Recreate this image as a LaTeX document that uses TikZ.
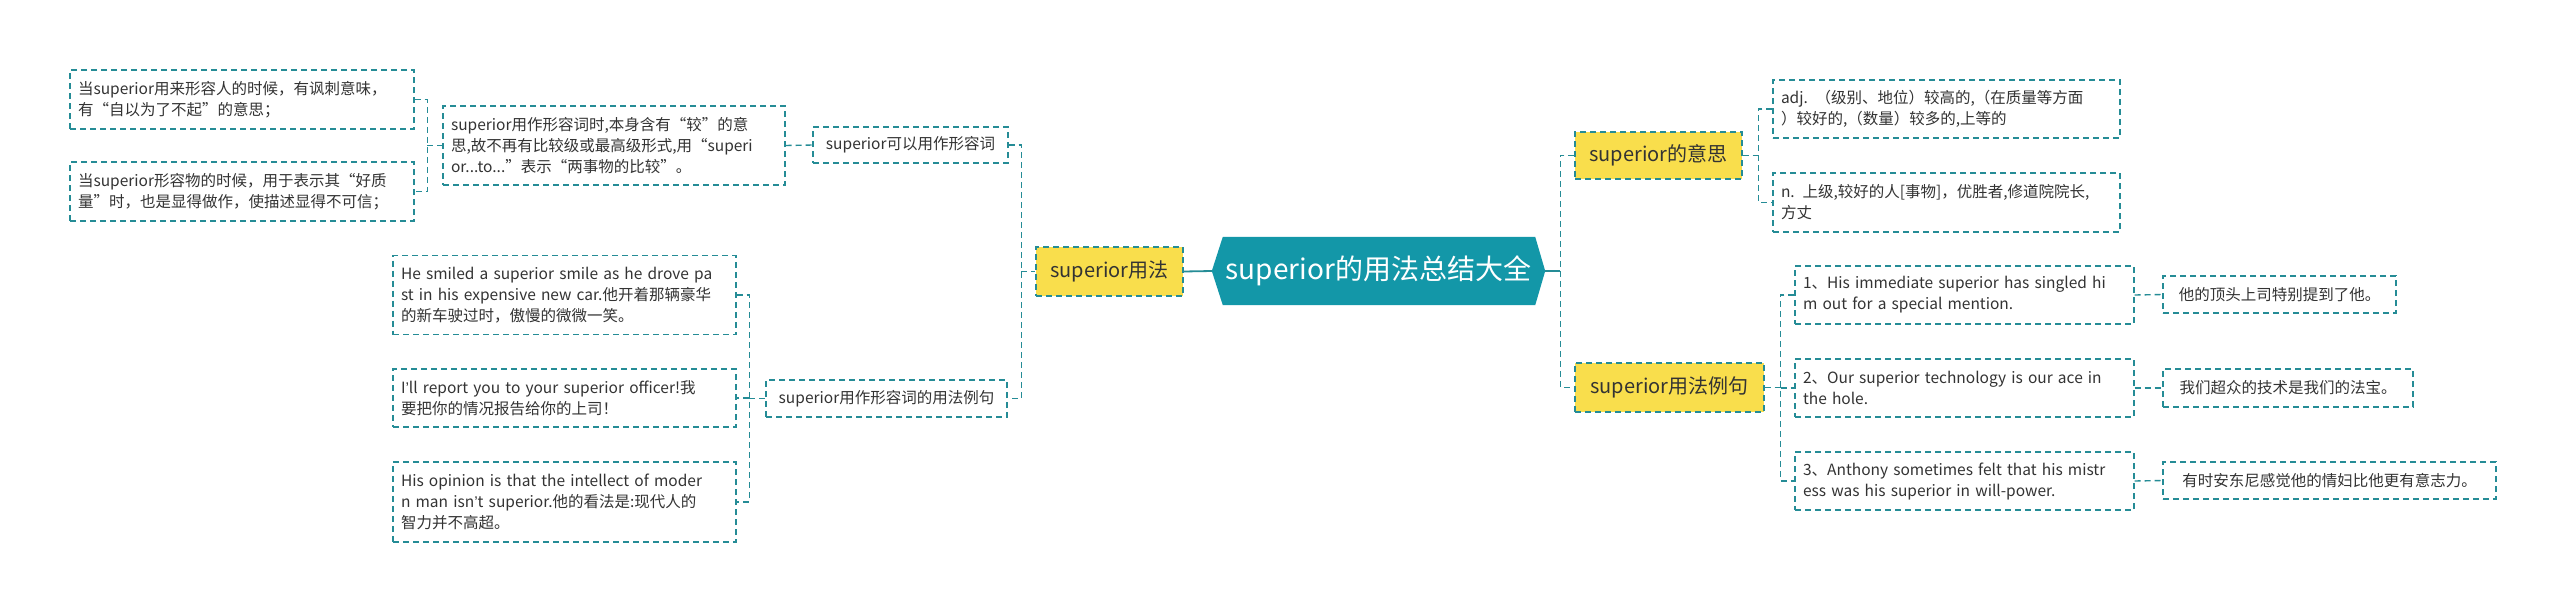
\documentclass[tikz,border=0pt]{standalone}
\usepackage{fontspec}
\setmainfont{Noto Sans CJK SC}
\newfontfamily\lat{Liberation Sans}
\usetikzlibrary{backgrounds}
\definecolor{ln}{HTML}{258C96}
\definecolor{ctr}{HTML}{1397A8}
\definecolor{yl}{HTML}{F9DE4C}
\definecolor{tx}{HTML}{333333}
\newcommand\ap{{\lat ’}}
\begin{document}
\begin{tikzpicture}[x=1pt,y=-1pt,
  dsh/.style={draw=ln, line width=1.4pt, dash pattern=on 6pt off 4pt},
  conn/.style={dsh},
  solidconn/.style={draw=ln, line width=1.8pt},
  tbox/.style={dsh, rectangle, inner xsep=8pt, inner ysep=0pt, align=left, text=tx, font=\fontsize{15.5}{21}\selectfont},
  sbox/.style={dsh, rectangle, inner sep=0pt, align=center, text=tx, font=\fontsize{15.5}{21}\selectfont},
  ybox/.style={dsh, line width=1.2pt, fill=yl, inner sep=0pt, align=center, text=tx, font=\fontsize{20}{24}\selectfont}]
\useasboundingbox (0,0) rectangle (2560,611);

% centre
\node[inner sep=0pt, minimum width=333pt, minimum height=68pt, text=white, font=\fontsize{28}{32}\selectfont] (c) at (1378.5,271) {superior的用法总结大全};
\begin{scope}[on background layer]
\fill[white] (0,0) rectangle (2560,611);
\fill[ctr] (c.west) -- ([xshift=11pt]c.north west) -- ([xshift=-10pt]c.north east) -- (c.east) -- ([xshift=-10pt]c.south east) -- ([xshift=11pt]c.south west) -- cycle;
\end{scope}

% left side
\node[ybox, minimum width=147pt, minimum height=49pt] (yong) at (1109.5,271.5) {superior用法};
\node[sbox, minimum width=195pt, minimum height=36pt] (k) at (910.5,145) {superior可以用作形容词};
\node[tbox, text width=326pt, minimum height=79pt] (l3) at (614,145.5) {\mbox{superior用作形容词时,本身含有“较”的意}\\\mbox{思,故不再有比较级或最高级形式,用“superi}\\\mbox{or...to...”表示“两事物的比较”。}};
\node[tbox, text width=328pt, minimum height=59pt] (l1) at (242,99.5) {\mbox{当superior用来形容人的时候，有讽刺意味，}\\\mbox{有“自以为了不起”的意思；}};
\node[tbox, text width=328pt, minimum height=59pt] (l2) at (242,191.5) {\mbox{当superior形容物的时候，用于表示其“好质}\\\mbox{量”时，也是显得做作，使描述显得不可信；}};

\node[sbox, minimum width=241pt, minimum height=37pt] (li) at (886.5,398.5) {superior用作形容词的用法例句};
\node[tbox, text width=327pt, minimum height=79pt] (e1l) at (564.5,295) {\mbox{He smiled a superior smile as he drove pa}\\\mbox{st in his expensive new car.他开着那辆豪华}\\\mbox{的新车驶过时，傲慢的微微一笑。}};
\node[tbox, text width=327pt, minimum height=58pt] (e2l) at (564.5,398) {\mbox{I\ap ll report you to your superior officer!我}\\\mbox{要把你的情况报告给你的上司！}};
\node[tbox, text width=327pt, minimum height=80pt] (e3l) at (564.5,502) {\mbox{His opinion is that the intellect of moder}\\\mbox{n man isn\ap t superior.他的看法是:现代人的}\\\mbox{智力并不高超。}};

% right side
\node[ybox, minimum width=167pt, minimum height=47pt] (m) at (1658.5,155.5) {superior的意思};
\node[tbox, text width=331pt, minimum height=58pt] (adj) at (1946.5,109) {\mbox{adj. （级别、地位）较高的,（在质量等方面}\\\mbox{）较好的,（数量）较多的,上等的}};
\node[tbox, text width=331pt, minimum height=59pt] (n) at (1946.5,202.5) {\mbox{n. 上级,较好的人[事物]，优胜者,修道院院长,}\\\mbox{方丈}};

\node[ybox, minimum width=189pt, minimum height=49pt] (u) at (1669.5,387.5) {superior用法例句};
\node[tbox, text width=323pt, minimum height=58pt] (e1) at (1964.5,295) {\mbox{1、His immediate superior has singled hi}\\\mbox{m out for a special mention.}};
\node[tbox, text width=323pt, minimum height=58pt] (e2) at (1964.5,388) {\mbox{2、Our superior technology is our ace in}\\\mbox{the hole.}};
\node[tbox, text width=323pt, minimum height=58pt] (e3) at (1964.5,481) {\mbox{3、Anthony sometimes felt that his mistr}\\\mbox{ess was his superior in will-power.}};
\node[sbox, minimum width=233pt, minimum height=37pt] (t1) at (2279.5,294.5) {他的顶头上司特别提到了他。};
\node[sbox, minimum width=250pt, minimum height=38pt] (t2) at (2288,388) {我们超众的技术是我们的法宝。};
\node[sbox, minimum width=333pt, minimum height=37pt] (t3) at (2329.5,480.5) {有时安东尼感觉他的情妇比他更有意志力。};

% junction points
\coordinate (bl) at ([xshift=-15pt]l3.west);
\coordinate (be) at ([xshift=-16pt]li.west);
\coordinate (tl) at ([xshift=-14pt]yong.west);
\coordinate (tr) at ([xshift=15pt]c.east);
\coordinate (bm) at ([xshift=16pt]m.east);
\coordinate (bu) at ([xshift=16pt]u.east);

% connectors
\draw[solidconn] (c.west) -- (yong.east);
\draw[solidconn] (c.east) -- (tr);

\draw[conn] (k.east) -| (tl) |- (li.east);
\draw[conn] (tl) -- (yong.west);
\draw[conn] (l3.east) -- (k.west);
\draw[conn] (l1.east) -| (bl) |- (l2.east);
\draw[conn] (bl) -- (l3.west);
\draw[conn] (e1l.east) -| (be) |- (e3l.east);
\draw[conn] (be) -- (li.west);
\draw[conn] (be |- e2l.east) -- (e2l.east);

\draw[conn] (m.west) -| (tr) |- (u.west);
\draw[conn] (adj.west) -| (bm) |- (n.west);
\draw[conn] (m.east) -- (bm);
\draw[conn] (e1.west) -| (bu) |- (e3.west);
\draw[conn] (u.east) -- (bu);
\draw[conn] (bu |- e2.west) -- (e2.west);
\draw[conn] (e1.east) -- (t1.west);
\draw[conn] (e2.east) -- (t2.west);
\draw[conn] (e3.east) -- (t3.west);
\end{tikzpicture}
\end{document}
